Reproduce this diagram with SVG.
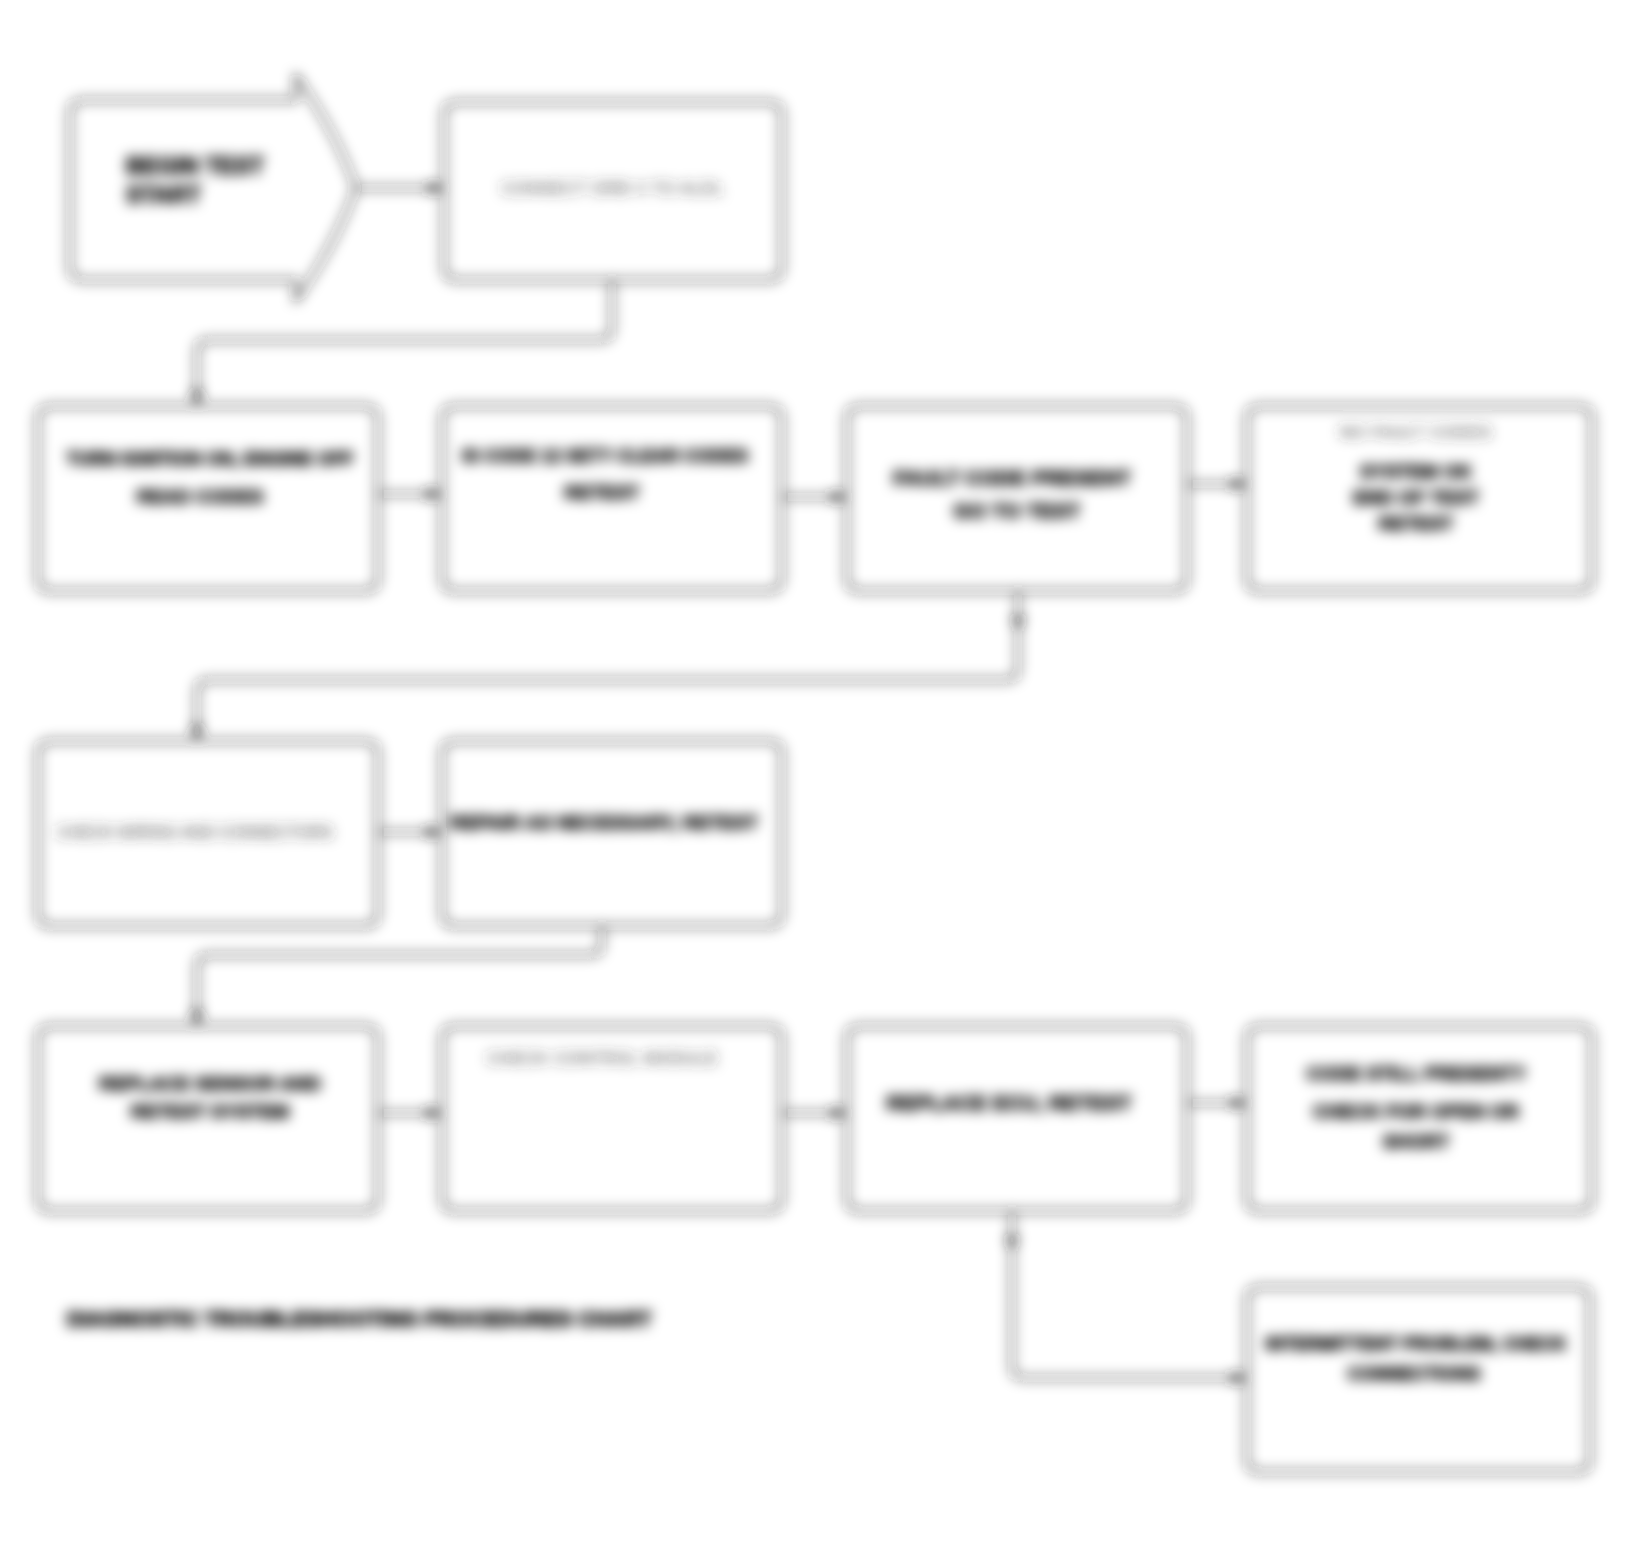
<svg xmlns="http://www.w3.org/2000/svg" width="1627" height="1544" viewBox="0 0 1627 1544">
<style>
.box{fill:none;stroke:#222;stroke-width:2.6}
.conn{fill:none;stroke:#222;stroke-width:2.6}
text{font-family:"Liberation Sans",Arial,sans-serif;fill:#000;text-anchor:middle;font-size:19px}
.b{font-weight:bold;stroke:#000;stroke-width:1.2}
.r{font-weight:normal;fill:#333;letter-spacing:1px;font-size:16px}
.cap{font-weight:bold;font-size:21px;text-anchor:start;stroke:#000;stroke-width:1.5}
</style>
<defs>
<filter id="soft" x="-5%" y="-5%" width="110%" height="110%"><feGaussianBlur stdDeviation="6.5"/></filter>
<marker id="arr" viewBox="0 0 10 10" refX="10" refY="5" markerWidth="5" markerHeight="5" orient="auto"><path d="M0,0 L10,5 L0,10 Z" fill="#222"/></marker>
</defs>
<rect width="1627" height="1544" fill="#fff"/>
<g filter="url(#soft)">
<g id="connectors">
<path class="conn" d="M356,188 H442" marker-end="url(#arr)"/>
<path class="conn" d="M612,280 V328 Q612,340 600,340 H209 Q197,340 197,352 V404" marker-end="url(#arr)"/>
<path class="conn" d="M378,494 H440" marker-end="url(#arr)"/>
<path class="conn" d="M782,497 H845" marker-end="url(#arr)"/>
<path class="conn" d="M1187,484 H1245" marker-end="url(#arr)"/>
<path class="conn" d="M1018,591 V630" marker-end="url(#arr)"/>
<path class="conn" d="M1018,628 V668 Q1018,680 1006,680 H209 Q197,680 197,692 V739" marker-end="url(#arr)"/>
<path class="conn" d="M378,832 H440" marker-end="url(#arr)"/>
<path class="conn" d="M602,926 V943 Q602,955 590,955 H209 Q197,955 197,967 V1024" marker-end="url(#arr)"/>
<path class="conn" d="M378,1113 H440" marker-end="url(#arr)"/>
<path class="conn" d="M782,1113 H845" marker-end="url(#arr)"/>
<path class="conn" d="M1187,1103 H1245" marker-end="url(#arr)"/>
<path class="conn" d="M1012,1211 V1250" marker-end="url(#arr)"/>
<path class="conn" d="M1012,1248 V1366 Q1012,1378 1024,1378 H1245" marker-end="url(#arr)"/>
</g>
<g id="n-start">
<path class="box" d="M84,100 H296 V76 Q335,130 356,188 Q335,246 296,300 V280 H84 Q70,280 70,266 V114 Q70,100 84,100 Z"/>
<text class="b" x="126" y="174" style="text-anchor:start;font-size:23px">BEGIN TEST</text>
<text class="b" x="126" y="203" style="text-anchor:start;font-size:23px">START</text>
</g>
<g id="n-connect">
<rect class="box" x="444" y="102" width="338" height="178" rx="12"/>
<text class="r" x="613" y="194">CONNECT DRB II TO ALDL</text>
</g>
<g id="n-r2a">
<rect class="box" x="38" y="406" width="340" height="185" rx="12"/>
<text class="b" x="210" y="465" style="font-size:18px">TURN IGNITION ON, ENGINE OFF</text>
<text class="b" x="200" y="503">READ CODES</text>
</g>
<g id="n-r2b">
<rect class="box" x="442" y="406" width="340" height="185" rx="12"/>
<text class="b" x="605" y="462" style="font-size:18px">IS CODE 12 SET? CLEAR CODES</text>
<text class="b" x="602" y="499">RETEST</text>
</g>
<g id="n-r2c">
<rect class="box" x="847" y="406" width="340" height="185" rx="12"/>
<text class="b" x="1012" y="485" style="font-size:21px">FAULT CODE PRESENT</text>
<text class="b" x="1017" y="518" style="font-size:21px">GO TO TEST</text>
</g>
<g id="n-r2d">
<rect class="box" x="1247" y="406" width="345" height="185" rx="12"/>
<text class="r" x="1416" y="438">NO FAULT CODES</text>
<text class="b" x="1416" y="478">SYSTEM OK</text>
<text class="b" x="1416" y="504">END OF TEST</text>
<text class="b" x="1416" y="530">RETEST</text>
</g>
<g id="n-r3a">
<rect class="box" x="38" y="741" width="340" height="185" rx="12"/>
<text class="r" x="195" y="838" style="letter-spacing:0px">CHECK WIRING AND CONNECTORS</text>
</g>
<g id="n-r3b">
<rect class="box" x="442" y="741" width="340" height="185" rx="12"/>
<text class="b" x="604" y="829" style="font-size:19px">REPAIR AS NECESSARY, RETEST</text>
</g>
<g id="n-r4a">
<rect class="box" x="38" y="1026" width="340" height="185" rx="12"/>
<text class="b" x="210" y="1090">REPLACE SENSOR AND</text>
<text class="b" x="210" y="1118">RETEST SYSTEM</text>
</g>
<g id="n-r4b">
<rect class="box" x="442" y="1026" width="340" height="185" rx="12"/>
<text class="r" x="603" y="1064">CHECK CONTROL MODULE</text>
</g>
<g id="n-r4c">
<rect class="box" x="847" y="1026" width="340" height="185" rx="12"/>
<text class="b" x="1009" y="1110" style="font-size:21px">REPLACE ECU, RETEST</text>
</g>
<g id="n-r4d">
<rect class="box" x="1247" y="1026" width="345" height="185" rx="12"/>
<text class="b" x="1416" y="1080">CODE STILL PRESENT?</text>
<text class="b" x="1416" y="1118">CHECK FOR OPEN OR</text>
<text class="b" x="1416" y="1148">SHORT</text>
</g>
<g id="n-r5e">
<rect class="box" x="1247" y="1287" width="343" height="185" rx="12"/>
<text class="b" x="1416" y="1350" style="font-size:18px">INTERMITTENT PROBLEM, CHECK</text>
<text class="b" x="1414" y="1380" style="font-size:18px">CONNECTIONS</text>
</g>
<text class="cap" x="67" y="1326">DIAGNOSTIC TROUBLESHOOTING PROCEDURES CHART</text>
</g>
</svg>
